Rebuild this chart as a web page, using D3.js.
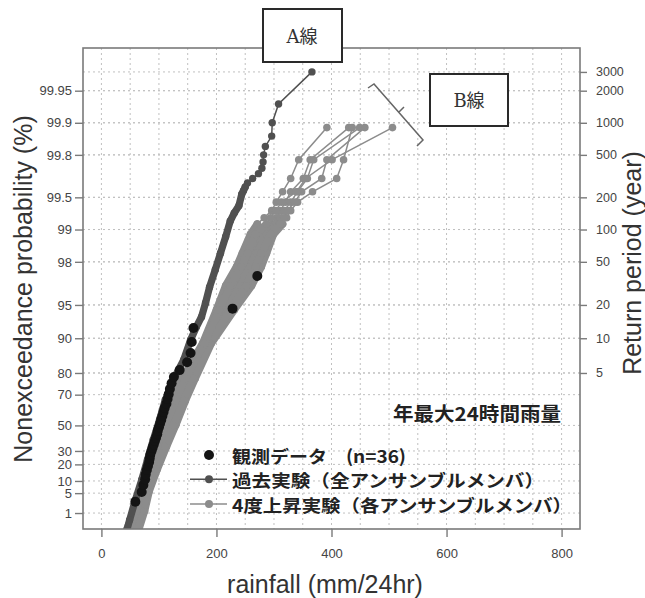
<!DOCTYPE html>
<html><head><meta charset="utf-8">
<script src="https://cdn.jsdelivr.net/npm/d3@7/dist/d3.min.js"></script>
<style>
html,body{margin:0;padding:0;background:#fff;}
svg{display:block;}
</style>
</head><body>
<svg id="chart" width="645" height="598"></svg>
<script>
// ---------------- data ----------------
const probTicks = [99.95, 99.9, 99.8, 99.5, 99, 98, 95, 90, 80, 70, 50, 30, 20, 10, 5, 1];
const returnTicks = [3000, 2000, 1000, 500, 200, 100, 50, 20, 10, 5];
const xTicks = [0, 200, 400, 600, 800];
const xGridStep = 50;

// observed annual max 24h rainfall, ascending (Weibull plotting position i/(n+1))
const obsN = 36;
const obsRainfall = [59, 70, 73, 76, 77, 79, 81, 83, 84, 85, 87, 89, 91, 93, 95, 97, 98, 100,
  102, 104, 106, 108, 110, 113, 115, 117, 119, 122, 126, 136, 149, 155, 157, 160, 228, 271];

// past experiment (all members pooled), rank counted from the largest
const pastN = 3000;
const pastRank = [1, 2, 3, 4, 5, 6, 7, 8, 9, 10, 11, 12, 13, 14, 18, 21, 25, 35, 50, 71, 103, 144,
  193, 238, 311, 465, 686, 990, 1381, 1840, 2307, 2686, 2908, 2987, 3000];
const pastRainfall = [366, 308, 297, 296, 285, 282, 281, 279, 273, 263, 254, 250, 247, 244, 239, 231,
  224, 216, 207, 198, 188, 181, 174, 165, 155, 143, 125, 111, 101, 90, 80, 70, 59, 49, 40];

// +4K experiment, six member groups, rank counted from the largest
const warmN = 900;
const warmRank = [1, 2, 3, 4, 5, 6, 7, 8, 10, 15, 20, 30, 50, 100, 200, 300, 450, 600, 750, 850, 890, 900];
const warm1 = [392, 343, 329, 315, 304, 296, 283, 271, 259, 245, 235, 216, 200, 176, 141, 123, 106, 92, 78, 66, 57, 43];
const warm2 = [430, 363, 351, 329, 320, 311, 304, 297, 280, 264, 252, 235, 212, 183, 151, 132, 115, 101, 85, 73, 63, 49];
const warm3 = [436, 421, 409, 367, 341, 329, 322, 315, 299, 287, 278, 261, 231, 191, 163, 146, 129, 113, 97, 83, 75, 64];
const warm4 = [449, 369, 358, 341, 329, 318, 310, 303, 287, 270, 259, 242, 217, 184, 155, 137, 120, 106, 90, 77, 68, 54];
const warm5 = [458, 392, 383, 348, 336, 323, 317, 310, 294, 278, 268, 252, 224, 188, 160, 143, 125, 110, 94, 80, 71, 59];
const warm6 = [506, 401, 355, 339, 313, 303, 294, 287, 268, 254, 243, 224, 205, 179, 146, 129, 111, 97, 82, 70, 61, 47];

const legendLabels = ["観測データ\u3000(n=36)", "過去実験（全アンサンブルメンバ）", "4度上昇実験（各アンサンブルメンバ）"];
const noteLabel = "年最大24時間雨量";

// ---------------- layout ----------------
const plot = {left: 83, right: 580, top: 48, bottom: 529};
const colObs = "#141414", colPast = "#505050", colWarm = "#8c8c8c";

const svg = d3.select("#chart");
const gumbel = p => -Math.log(-Math.log(p));
const x = d3.scaleLinear().domain([-32, 832]).range([plot.left, plot.right]);
const y = d3.scaleLinear().domain([-1.8723, 8.5234]).range([plot.bottom, plot.top]);

svg.append("rect").attr("width", 645).attr("height", 598).attr("fill", "#fff");

svg.append("defs").append("clipPath").attr("id", "clip")
  .append("rect").attr("x", plot.left).attr("y", plot.top)
  .attr("width", plot.right - plot.left).attr("height", plot.bottom - plot.top);

// grid
const grid = svg.append("g").attr("stroke", "#c0c0c0").attr("stroke-width", 1).attr("stroke-dasharray", "2,3");
grid.selectAll("line.v").data(d3.range(0, 801, xGridStep)).join("line")
  .attr("x1", d => x(d)).attr("x2", d => x(d)).attr("y1", plot.top).attr("y2", plot.bottom);
const hVals = probTicks.map(p => gumbel(p / 100)).concat(returnTicks.map(T => gumbel(1 - 1 / T)));
grid.selectAll("line.h").data(hVals).join("line")
  .attr("x1", plot.left).attr("x2", plot.right).attr("y1", d => y(d)).attr("y2", d => y(d));

// data layers
const data = svg.append("g").attr("clip-path", "url(#clip)");
const line = d3.line().x(d => x(d.v)).y(d => y(d.u));

function rankSeries(ranks, vals, n) {
  return ranks.map((k, i) => ({v: vals[i], u: gumbel(1 - k / (n + 1)), k}));
}
function drawSeries(pts, color, bandFromRank, r, bandW) {
  const g = data.append("g");
  g.append("path").datum(pts).attr("d", line).attr("fill", "none")
    .attr("stroke", color).attr("stroke-width", 1.5);
  g.append("path").datum(pts.filter(d => d.k >= bandFromRank)).attr("d", line).attr("fill", "none")
    .attr("stroke", color).attr("stroke-width", bandW)
    .attr("stroke-linejoin", "round").attr("stroke-linecap", "round");
  g.selectAll("circle").data(pts).join("circle")
    .attr("cx", d => x(d.v)).attr("cy", d => y(d.u)).attr("r", r).attr("fill", color);
}

[warm1, warm2, warm3, warm4, warm5, warm6].forEach(s =>
  drawSeries(rankSeries(warmRank, s, warmN), colWarm, 8, 3.8, 7.6));
drawSeries(rankSeries(pastRank, pastRainfall, pastN), colPast, 12, 3.7, 7.2);

const obsPts = obsRainfall.map((v, i) => ({v, u: gumbel((i + 1) / (obsN + 1))}));
data.selectAll("circle.obs").data(obsPts).join("circle").attr("class", "obs")
  .attr("cx", d => x(d.v)).attr("cy", d => y(d.u)).attr("r", 5).attr("fill", colObs);

// frame
svg.append("rect").attr("x", plot.left).attr("y", plot.top)
  .attr("width", plot.right - plot.left).attr("height", plot.bottom - plot.top)
  .attr("fill", "none").attr("stroke", "#7a7a7a").attr("stroke-width", 1.6);

// axes
function styleAxis(g, size) {
  g.select(".domain").remove();
  g.selectAll(".tick line").attr("stroke", "#7a7a7a").attr("stroke-width", 1.4);
  g.selectAll(".tick text").attr("fill", "#444").attr("font-size", size)
    .attr("font-family", "'Liberation Sans', Arial, sans-serif");
}
const ax = svg.append("g").attr("transform", `translate(0,${plot.bottom})`)
  .call(d3.axisBottom(x).tickValues(xTicks).tickSize(8).tickPadding(12));
styleAxis(ax, 13);

const ayl = svg.append("g").attr("transform", `translate(${plot.left},0)`)
  .call(d3.axisLeft(y).tickValues(probTicks.map(p => gumbel(p / 100)))
    .tickFormat((d, i) => String(probTicks[i])).tickSize(8).tickPadding(3));
styleAxis(ayl, 13);

const ayr = svg.append("g").attr("transform", `translate(${plot.right},0)`)
  .call(d3.axisRight(y).tickValues(returnTicks.map(T => gumbel(1 - 1 / T)))
    .tickFormat((d, i) => String(returnTicks[i])).tickSize(7).tickPadding(9));
styleAxis(ayr, 12.5);

// axis titles
const titleFont = "'Liberation Sans', Arial, sans-serif";
svg.append("text").attr("x", 325).attr("y", 593).attr("text-anchor", "middle")
  .attr("font-family", titleFont).attr("font-size", 25).attr("fill", "#333").text("rainfall (mm/24hr)");
svg.append("text").attr("transform", "translate(32,289) rotate(-90)").attr("text-anchor", "middle")
  .attr("font-family", titleFont).attr("font-size", 25).attr("fill", "#333").text("Nonexceedance probability (%)");
svg.append("text").attr("transform", "translate(641,263) rotate(-90)").attr("text-anchor", "middle")
  .attr("font-family", titleFont).attr("font-size", 25).attr("fill", "#333").text("Return period (year)");

// legend
const jp = "'Noto Sans CJK JP', sans-serif";
svg.append("text").attr("x", 393).attr("y", 412).attr("dominant-baseline", "central")
  .attr("font-family", jp).attr("font-weight", 700).attr("font-size", 19).attr("fill", "#222")
  .attr("textLength", 168).attr("lengthAdjust", "spacingAndGlyphs").text(noteLabel);

const legY = [455, 479.3, 504];
const legW = [174, 312, 340];
const legG = svg.append("g");
legG.append("circle").attr("cx", 209).attr("cy", legY[0]).attr("r", 5).attr("fill", colObs);
[[colPast, legY[1]], [colWarm, legY[2]]].forEach(([c, yy]) => {
  legG.append("line").attr("x1", 190).attr("x2", 227).attr("y1", yy).attr("y2", yy)
    .attr("stroke", c).attr("stroke-width", 1.5);
  legG.append("circle").attr("cx", 209).attr("cy", yy).attr("r", 4).attr("fill", c);
});
legendLabels.forEach((t, i) => {
  legG.append("text").attr("x", 232).attr("y", legY[i]).attr("dominant-baseline", "central")
    .attr("font-family", jp).attr("font-weight", 700).attr("font-size", 17.5).attr("fill", "#222")
    .attr("textLength", legW[i]).attr("lengthAdjust", "spacingAndGlyphs").text(t);
});

// annotation boxes
const boxFont = "'DejaVu Serif', 'Noto Sans CJK JP', serif";
[[263, 9, 79, 53, "A線", 302, 36], [430, 74, 78, 52, "B線", 469, 100]].forEach(([bx, by, bw, bh, t, tx, ty]) => {
  svg.append("rect").attr("x", bx).attr("y", by).attr("width", bw).attr("height", bh)
    .attr("fill", "#fff").attr("stroke", "#2a2a2a").attr("stroke-width", 2);
  svg.append("text").attr("x", tx).attr("y", ty).attr("text-anchor", "middle").attr("dominant-baseline", "central")
    .attr("font-family", boxFont).attr("font-size", 18).attr("fill", "#333").text(t);
});
// bracket
svg.append("path").attr("d", "M368,88 L374,84 L423,140 L417,146 M399,112 L404,107")
  .attr("fill", "none").attr("stroke", "#666").attr("stroke-width", 1.5);
</script>
</body></html>
